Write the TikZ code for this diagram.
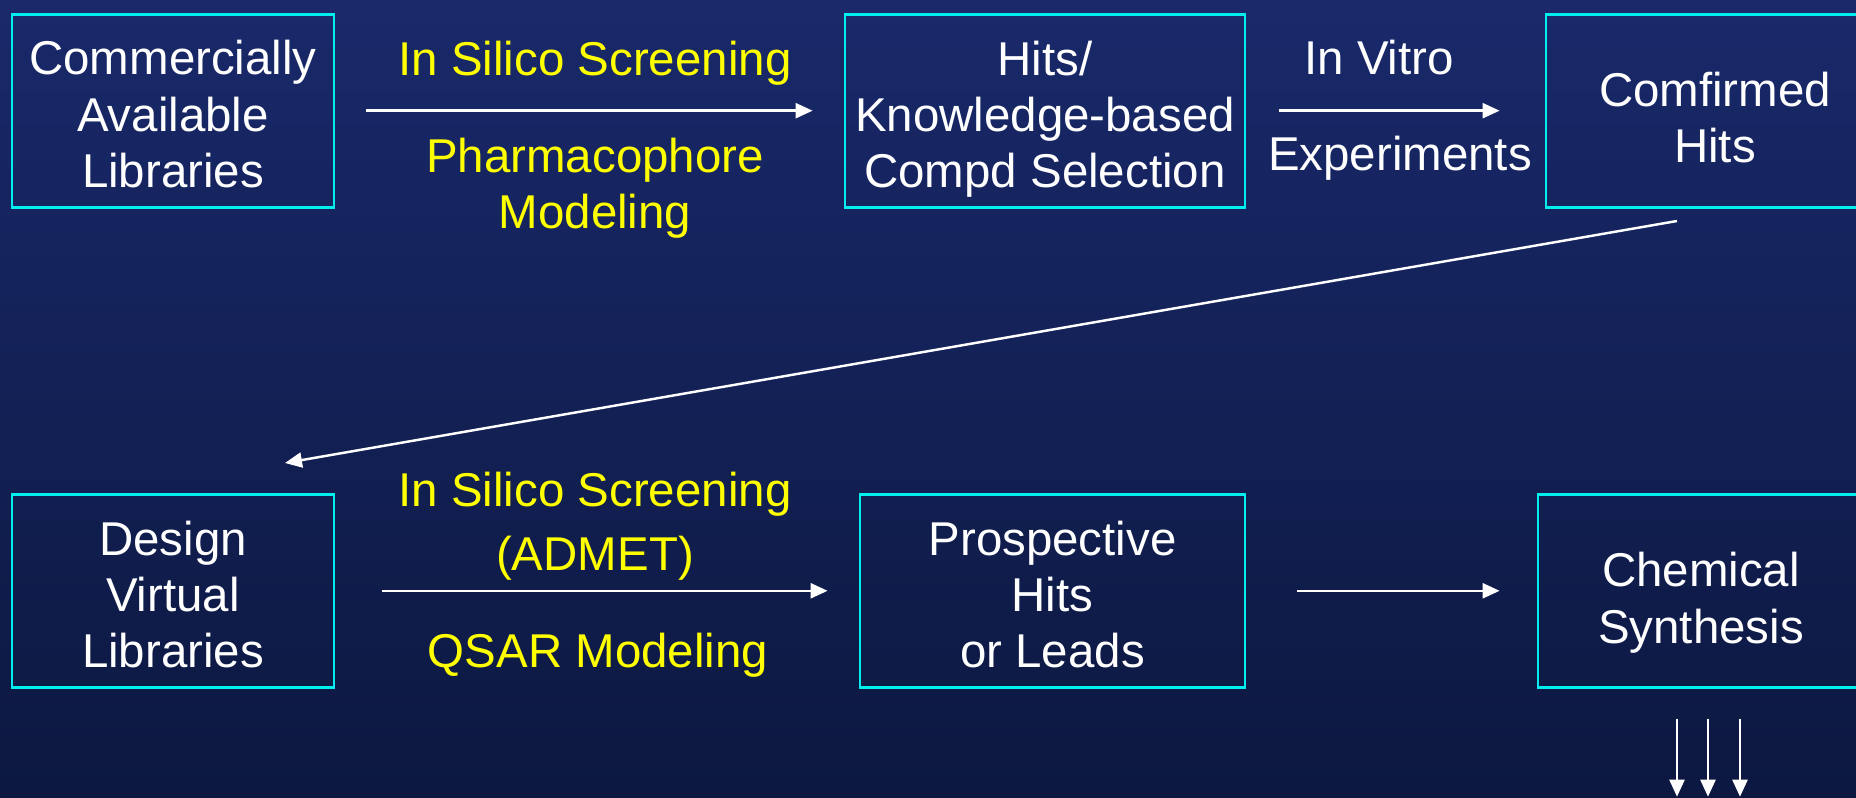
\documentclass[tikz,border=0pt]{standalone}
\usepackage{fontspec}
\setmainfont{Liberation Sans}
\usetikzlibrary{arrows.meta}

\begin{document}
\begin{tikzpicture}[
    stage/.style={draw=boxcyan, line width=0.8pt, minimum height=1.93cm, inner sep=0pt},
    method/.style={text=labelyellow, align=center, inner sep=0pt},
    plain/.style={text=white, align=center, inner sep=0pt},
    flow/.style={draw=white, line width=0.7pt, -{Triangle[length=0.17cm,width=0.15cm]}},
    font=\fontsize{13.5}{16}\selectfont
]
    % Define colors
    \definecolor{boxcyan}{RGB}{0, 238, 238}
    \definecolor{labelyellow}{RGB}{255, 255, 0}
    \definecolor{bgtop}{RGB}{25, 41, 106}
    \definecolor{bgbottom}{RGB}{12, 24, 64}

    % Canvas and background
    \useasboundingbox (0,0) rectangle (18.56,-7.98);
    \clip (0,0) rectangle (18.56,-7.98);
    \shade[top color=bgtop, bottom color=bgbottom] (0,0) rectangle (18.56,-7.98);

    % Top row boxes
    \node[stage, minimum width=3.22cm] (commlib) at (1.73,-1.107) {};
    \node[stage, minimum width=4.00cm] (hits) at (10.45,-1.107) {};
    \node[stage, minimum width=3.38cm] (confirmed) at (17.15,-1.107) {};

    % Bottom row boxes
    \node[stage, minimum width=3.22cm] (designlib) at (1.73,-5.908) {};
    \node[stage, minimum width=3.85cm] (prospective) at (10.525,-5.908) {};
    \node[stage, minimum width=3.26cm] (synthesis) at (17.01,-5.908) {};

    % Box texts
    \node[plain] (commlibtxt) at ([yshift=-0.035cm]commlib.center) {Commercially\\Available\\Libraries};
    \node[plain] (hitstxt) at ([yshift=-0.085cm]hits.center) {Hits/\\Knowledge-based\\Compd Selection};
    \node[plain] (confirmedtxt) at ([yshift=-0.07cm]confirmed.center) {Comfirmed\\Hits};
    \node[plain] (designlibtxt) at ([yshift=-0.035cm]designlib.center) {Design\\Virtual\\Libraries};
    \node[plain] (prospectivetxt) at ([yshift=-0.035cm]prospective.center) {Prospective\\Hits\\or Leads};
    \node[plain] (synthesistxt) at ([yshift=-0.12cm]synthesis.center) {Chemical\\Synthesis};

    % Arrow labels
    \node[method] (screen1) at (5.95,-0.63) {In Silico Screening};
    \node[method] (pharma) at (5.95,-1.88) {Pharmacophore\\Modeling};
    \node[plain] (vitro) at (13.79,-0.58) {In Vitro};
    \node[plain] (expt) at (14.00,-1.58) {Experiments};
    \node[method] (screen2) at (5.95,-4.945) {In Silico Screening};
    \node[method] (admet) at (5.95,-5.58) {(ADMET)};
    \node[method] (qsar) at (5.98,-6.55) {QSAR Modeling};

    % Flow arrows
    \draw[flow, shorten <=0.31cm, shorten >=0.31cm] (commlib) -- (hits);
    \draw[flow, shorten <=0.33cm, shorten >=0.45cm] (hits) -- (confirmed);
    \draw[flow, shorten <=0.47cm, shorten >=0.31cm] (designlib) -- (prospective);
    \draw[flow, shorten <=0.51cm, shorten >=0.37cm] (prospective) -- (synthesis);

    % Back to design
    \coordinate (backstart) at (16.77,-2.21);
    \coordinate (backend) at (2.85,-4.63);
    \draw[flow] (backstart) -- (backend);

    % Out of synthesis
    \foreach \dx in {-0.24,0.07,0.39}
        \draw[flow] ([xshift=\dx cm, yshift=-0.30cm]synthesis.south) -- ++(0,-0.78);

\end{tikzpicture}
\end{document}
